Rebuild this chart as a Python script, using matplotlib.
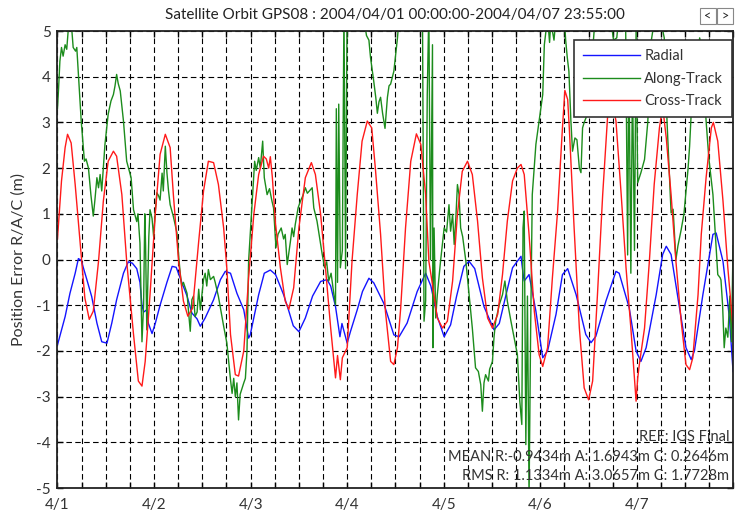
import matplotlib
matplotlib.use("Agg")
import matplotlib.pyplot as plt
from matplotlib.patches import Rectangle
import numpy as np

plt.rcParams['font.family'] = ['Lato', 'DejaVu Sans']

# ---- time (hours since 2004/04/01 00:00) and position errors (m) ----
radial_t = [0.0, 1.9, 3.1, 4.4, 5.2, 5.9, 7.3, 8.5, 9.8, 11.0, 12.3, 13.5, 14.7, 16.4, 17.6,
            18.6, 19.7, 20.5, 21.0, 21.4, 22.2, 22.6, 23.5, 24.3, 25.5, 27.2, 28.5, 29.5, 30.9,
            32.2, 33.4, 34.7, 35.5, 36.7, 38.8, 40.5, 41.7, 43.0, 44.6, 46.3, 47.5, 47.9, 50.0,
            51.4, 52.9, 54.2, 56.2, 57.4, 58.6, 60.0, 61.6, 63.4, 65.4, 67.0, 67.9, 69.1, 70.2,
            70.7, 71.3, 72.0, 72.8, 74.5, 75.8, 77.4, 78.6, 81.1, 83.6, 84.9, 86.9, 89.4, 91.5,
            92.8, 94.4, 96.1, 97.7, 99.2, 101.0, 102.3, 103.7, 106.0, 108.5, 109.8, 111.4, 113.1,
            115.2, 115.7, 116.0, 117.2, 118.9, 120.6, 121.8, 123.9, 125.5, 126.8, 128.9, 131.3,
            132.6, 133.8, 136.3, 138.8, 139.6, 142.1, 143.8, 145.0, 146.3, 148.8, 150.4, 151.3,
            152.5, 154.6, 156.2, 157.5, 158.3, 160.4, 162.9, 163.7, 165.4, 167.0, 167.9]
radial_v = [-1.87, -1.25, -0.74, -0.30, 0.02, -0.02, -0.44, -0.81, -1.39, -1.80, -1.83, -1.39,
            -0.88, -0.30, -0.05, -0.08, -0.20, -0.50, -1.00, -1.15, -1.10, -1.40, -1.62, -1.40,
            -1.00, -0.50, -0.15, -0.17, -0.50, -0.80, -1.17, -1.30, -1.46, -1.28, -0.88, -0.44,
            -0.26, -0.30, -0.74, -1.10, -1.72, -1.65, -0.77, -0.30, -0.23, -0.33, -0.77, -1.10,
            -1.45, -1.58, -1.28, -0.80, -0.48, -0.44, -0.58, -1.03, -1.69, -1.40, -1.60, -1.83,
            -1.58, -1.10, -0.70, -0.41, -0.51, -0.96, -1.65, -1.69, -1.39, -0.70, -0.30, -0.58,
            -1.25, -1.69, -1.43, -0.80, -0.15, -0.04, -0.20, -1.03, -1.54, -1.40, -0.80, -0.18,
            0.07, -0.30, -0.47, -0.33, -1.13, -2.15, -2.00, -1.20, -0.33, -0.20, -0.77, -1.64,
            -1.82, -1.68, -0.91, -0.26, -0.30, -1.06, -2.00, -2.23, -1.93, -0.77, 0.11, 0.29,
            0.11, -1.06, -1.93, -2.19, -2.00, -0.77, 0.55, 0.58, -0.04, -1.28, -2.45]

along_t = [0.0, 0.25, 0.6, 1.0, 1.4, 1.9, 2.3, 2.7, 3.1, 3.5, 3.9, 4.5, 4.8, 5.2, 5.9, 6.7, 7.1,
           7.7, 8.3, 8.9, 9.3, 9.8, 10.2, 10.6, 11.0, 11.8, 12.6, 13.3, 13.9, 14.3, 14.7, 15.1,
           15.6, 16.4, 17.2, 18.3, 18.9, 19.7, 20.0, 20.5, 21.0, 21.4, 21.7, 21.9, 22.2, 22.7,
           23.0, 23.5, 23.9, 24.3, 24.7, 25.1, 25.5, 26.0, 26.3, 26.8, 27.2, 27.6, 28.0, 28.8,
           29.7, 30.1, 30.5, 30.9, 31.3, 32.2, 32.6, 33.0, 33.4, 33.8, 34.2, 34.7, 35.1, 35.5,
           36.3, 36.7, 37.1, 37.5, 38.0, 38.8, 39.2, 40.0, 41.3, 42.1, 43.0, 43.4, 43.8, 44.2,
           44.6, 45.0, 45.4, 46.3, 46.7, 47.1, 47.5, 47.9, 48.4, 49.0, 49.4, 50.0, 50.4, 51.0,
           51.4, 52.1, 52.7, 53.3, 53.7, 54.3, 54.8, 55.6, 56.2, 56.6, 57.1, 57.9, 58.3, 58.7,
           59.1, 59.8, 60.4, 61.0, 61.6, 62.1, 62.6, 63.3, 63.7, 64.5, 65.8, 66.4, 66.9, 67.4,
           68.0, 68.7, 69.1, 69.3, 69.6, 69.9, 70.3, 70.8, 71.2, 71.6, 72.0, 72.8, 74.1, 75.3,
           76.1, 76.8, 77.4, 77.8, 78.6, 79.1, 79.5, 79.9, 80.3, 80.8, 81.4, 82.0, 82.4, 82.8,
           83.6, 84.5, 84.9, 85.8, 87.8, 89.8, 90.7, 91.1, 91.5, 91.9, 92.3, 92.7, 93.2, 93.3,
           93.6, 94.0, 94.4, 95.2, 96.1, 96.7, 97.3, 97.7, 98.2, 98.6, 99.0, 99.4, 99.8, 100.2,
           100.7, 101.5, 102.3, 103.1, 103.9, 104.6, 105.2, 105.6, 106.0, 106.4, 107.1, 107.4,
           108.1, 108.5, 108.9, 109.8, 110.6, 111.2, 111.8, 112.7, 113.5, 114.3, 114.9, 115.4,
           115.7, 116.0, 116.4, 116.8, 117.2, 117.6, 118.0, 118.9, 119.7, 120.6, 121.0, 121.8,
           122.3, 122.6, 123.4, 124.1, 125.1, 125.8, 126.3, 126.7, 127.1, 127.6, 128.0, 128.6,
           129.1, 129.7, 130.1, 130.5, 130.9, 131.8, 132.6, 133.2, 133.8, 135.1, 136.3, 137.6,
           138.2, 139.0, 139.5, 140.5, 141.2, 141.7, 142.0, 142.5, 142.9, 143.4, 143.8, 144.2,
           145.0, 145.9, 146.7, 147.6, 148.8, 150.0, 150.8, 151.5, 152.5, 153.0, 153.7, 154.2,
           155.0, 155.7, 156.7, 157.1, 157.5, 158.7, 159.6, 160.2, 161.2, 161.9, 162.9, 164.1,
           164.7, 164.9, 165.3, 165.7, 166.1, 166.6, 167.1, 167.5, 167.9]
along_v = [3.30, 3.70, 4.34, 4.64, 4.45, 4.70, 4.60, 5.05, 5.30, 5.10, 4.64, 4.56, 4.64, 4.05,
           3.03, 2.15, 2.20, 2.00, 1.42, 0.95, 1.30, 1.79, 1.57, 1.86, 1.50, 2.52, 3.18, 3.47,
           3.61, 3.80, 4.05, 3.85, 3.69, 3.03, 2.15, 1.79, 1.09, 0.83, 1.00, 0.36, -1.80, -1.00,
           1.00, 0.30, -1.54, 0.50, 1.09, 0.90, 0.50, 1.05, 1.46, 1.40, 1.30, 1.89, 1.50, 2.48,
           1.90, 1.50, 1.20, 0.94, 0.58, 0.10, -0.30, -0.58, -0.50, -0.74, -1.17, -1.57, -0.88,
           -0.80, -1.25, -1.15, -0.65, -1.10, -0.44, -0.30, -0.58, -0.22, -0.44, -0.37, -0.50,
           -0.81, -1.46, -1.83, -2.63, -2.93, -2.60, -3.00, -2.70, -3.51, -2.95, -2.70, -2.60,
           -2.00, -0.04, 0.55, 1.28, 2.15, 1.95, 2.23, 2.00, 2.59, 1.79, 1.42, 1.55, 1.28, 1.13,
           0.26, 0.55, 0.69, 0.45, 0.55, -0.11, 0.40, 0.69, 0.50, 0.77, 1.13, 1.28, 1.40, 1.57,
           1.45, 1.50, 1.57, 1.13, 0.84, 0.11, -0.18, -0.05, -0.47, -0.30, -0.77, -0.99, 3.30,
           -0.50, 3.40, -0.18, 0.20, 5.50, -0.20, 5.80, 6.50, 7.00, 6.50, 5.30, 4.90, 4.80, 4.42,
           3.90, 3.55, 3.20, 3.45, 3.55, 3.20, 2.87, 3.55, 3.80, 3.84, 4.12, 4.85, 5.30, 6.00,
           6.50, 6.00, 5.60, -1.35, -0.90, 3.60, 5.50, 0.00, 4.70, -1.93, 0.69, -1.28, -0.77,
           -0.04, 0.69, 0.60, 1.20, 0.62, 0.99, 0.33, 0.90, 1.64, 1.42, 0.69, 0.50, -0.04, -0.77,
           -1.50, -2.37, -2.45, -2.74, -3.32, -2.70, -2.52, -2.66, -2.40, -2.23, -1.69, -1.35,
           -0.99, -0.77, -0.47, -0.91, -1.35, -1.72, -2.08, -3.10, -3.61, 0.69, 1.06, -4.05,
           -0.80, -5.20, -1.50, 1.42, 2.52, 3.03, 3.61, 4.70, 5.30, 4.75, 5.20, 4.80, 5.50, 6.00,
           5.50, 4.80, 4.42, 4.12, 3.03, 2.37, 2.66, 2.62, 2.00, 1.90, 2.88, 3.00, 3.20, 4.30,
           4.80, 5.50, 6.00, 5.50, 5.20, 4.80, 4.85, 5.30, 5.50, 5.20, 0.10, 4.50, -0.30, 4.00,
           0.20, 5.00, 1.68, 1.90, 2.19, 3.00, 4.80, 5.50, 5.20, 4.85, 3.00, 1.02, 1.10, 0.00,
           0.30, 0.65, 1.00, 1.97, 2.48, 3.20, 4.20, 4.85, 4.60, 3.03, 2.20, 1.42, -0.33, -0.40,
           -0.45, -1.00, -1.93, -1.50, -1.70, -0.80, -1.80, 0.30]

cross_t = [0.0, 1.0, 1.9, 2.5, 3.4, 4.4, 5.6, 6.8, 7.9, 8.9, 10.2, 11.4, 12.6, 13.9, 14.7, 16.0,
           17.2, 18.9, 20.1, 21.0, 21.8, 23.0, 24.3, 25.5, 26.8, 28.0, 28.8, 30.1, 31.3, 32.4,
           33.6, 35.1, 36.3, 37.5, 38.8, 40.0, 41.3, 42.1, 43.0, 44.2, 45.0, 46.3, 47.5, 48.8,
           50.0, 51.2, 51.9, 52.5, 52.9, 53.4, 54.2, 55.4, 56.6, 57.5, 58.7, 60.0, 61.6, 63.1,
           64.1, 65.4, 66.6, 67.9, 69.1, 69.6, 70.3, 70.8, 72.0, 73.2, 74.5, 75.7, 77.0, 78.1,
           79.0, 80.3, 81.5, 82.8, 83.6, 84.5, 85.3, 86.5, 87.8, 89.2, 90.3, 91.5, 92.3, 93.2,
           94.4, 95.7, 96.9, 98.2, 99.4, 100.6, 101.9, 103.1, 104.4, 105.6, 106.9, 108.1, 109.4,
           110.6, 111.8, 113.1, 114.3, 115.2, 116.0, 117.2, 118.5, 119.7, 120.6, 121.8, 123.0,
           124.3, 125.5, 126.1, 126.8, 127.2, 128.4, 129.7, 130.9, 132.0, 133.0, 134.2, 135.5,
           136.7, 137.8, 138.8, 140.1, 141.3, 142.5, 143.4, 143.8, 144.2, 144.6, 145.9, 147.1,
           148.3, 149.6, 150.4, 151.3, 152.5, 153.7, 155.0, 156.2, 157.1, 157.9, 159.2, 160.0,
           161.2, 162.5, 163.0, 164.1, 165.4, 166.6, 167.9]
cross_v = [0.45, 1.72, 2.45, 2.74, 2.55, 1.64, 0.40, -0.84, -1.31, -1.13, -0.04, 1.28, 2.15,
           2.37, 2.26, 1.42, -0.04, -1.64, -2.66, -2.77, -2.23, -0.77, 0.99, 2.30, 2.74, 2.45,
           1.42, -0.04, -0.91, -1.24, -1.06, 0.40, 1.50, 2.15, 2.12, 1.64, 0.69, -0.20, -1.64,
           -2.52, -2.55, -2.00, -0.40, 0.99, 1.86, 2.26, 2.20, 2.00, 2.25, 1.80, 0.77, -0.18,
           -0.91, -1.09, -0.62, 0.69, 1.79, 2.12, 1.86, 0.99, -0.18, -1.50, -2.59, -2.10, -2.63,
           -2.15, -1.93, -0.04, 1.42, 2.59, 3.03, 2.88, 2.00, 0.55, -1.13, -2.23, -2.30, -1.93,
           -1.06, 0.69, 2.15, 2.75, 2.52, 1.42, -0.04, -0.55, -1.28, -1.50, -1.35, -0.47, 0.99,
           1.93, 2.15, 1.86, 0.84, -0.40, -1.28, -1.50, -1.20, -0.33, 0.84, 1.72, 2.00, 2.08,
           1.86, 0.55, -1.13, -2.08, -2.34, -1.93, -0.40, 1.06, 2.88, 3.70, 3.50, 2.88, 0.69,
           -1.50, -2.81, -3.07, -2.66, -0.77, 1.42, 3.10, 3.50, 3.03, 1.42, -0.18, -1.50, -2.60,
           -3.10, -2.60, -2.30, -1.50, -0.04, 1.64, 2.88, 3.35, 2.66, 1.42, -0.04, -1.35, -2.30,
           -2.41, -2.15, -0.77, 0.55, 1.79, 2.88, 3.00, 2.59, 1.28, -0.18, -1.50]

series_names = ['Radial', 'Along-Track', 'Cross-Track']
series_colors = ['#1414ff', '#1c8c1c', '#ff1a1a']

day_labels = ['4/1', '4/2', '4/3', '4/4', '4/5', '4/6', '4/7']
y_ticks = list(range(-5, 6))

title_text = 'Satellite Orbit GPS08 : 2004/04/01 00:00:00-2004/04/07 23:55:00'
stat_lines = ['REF: IGS Final',
              'MEAN R:-0.9434m A: 1.6943m C: 0.2646m',
              'RMS R: 1.1334m A: 3.0657m C: 1.7728m']

# ---- figure ----
fig = plt.figure(figsize=(7.35, 5.11), dpi=100)
ax = fig.add_axes([0.0782, 0.045, 0.9197, 0.8943])

for t, v, name, c in zip([radial_t, along_t, cross_t], [radial_v, along_v, cross_v],
                         series_names, series_colors):
    ax.plot(t, v, color=c, lw=1.0, label=name)

ax.set_xlim(0, 168)
ax.set_ylim(-5, 5)

xt = np.arange(0, 169, 6)
ax.set_xticks(xt)
ax.set_xticklabels([day_labels[int(h // 24)] if (h % 24 == 0 and h < 168) else '' for h in xt])
ax.set_yticks(y_ticks)
ax.set_yticklabels([str(v) for v in y_ticks])

ax.set_axisbelow(True)
ax.grid(True, color='black', linestyle=(0, (5, 3)), linewidth=0.8)
ax.tick_params(direction='in', length=4, width=1.0, top=True, right=True,
               labelsize=11, colors='black')
ax.tick_params(axis='x', pad=7)
ax.tick_params(axis='y', pad=5)
for lab in ax.get_xticklabels() + ax.get_yticklabels():
    lab.set_color('#333333')
for s in ax.spines.values():
    s.set_linewidth(1.3)
    s.set_color('#222222')

ax.set_ylabel('Position Error R/A/C (m)', fontsize=11.5, color='#333333', labelpad=7)

leg = ax.legend(loc='upper right', bbox_to_anchor=(0.9978, 0.980), borderaxespad=0,
                fontsize=10.5, handlelength=3.9, handletextpad=0.3, labelspacing=0.6,
                borderpad=0.6, fancybox=False, framealpha=1, edgecolor='#333333')
leg.get_frame().set_linewidth(1.2)
for txt in leg.get_texts():
    txt.set_color('#333333')

fig.text(0.5374, 0.962, title_text, ha='center', va='baseline', fontsize=11, color='#222222')

stat_y = [0.103, 0.060, 0.018]
for s, yy in zip(stat_lines, stat_y):
    ax.text(0.9935, yy, s, transform=ax.transAxes, ha='right', va='baseline',
            fontsize=10.5, color='#333333')

# scroll buttons in the top-right corner
for i, sym in enumerate(['<', '>']):
    x0 = (700 + i * 17) / 735
    fig.patches.append(Rectangle((x0, 1 - 24 / 511), 16 / 735, 16 / 511,
                                 transform=fig.transFigure, facecolor='white',
                                 edgecolor='#888888', lw=0.8))
    fig.text(x0 + 8 / 735, 1 - 16 / 511, sym, ha='center', va='center', fontsize=9,
             color='#222222')

fig.savefig('out.png', dpi=100)
